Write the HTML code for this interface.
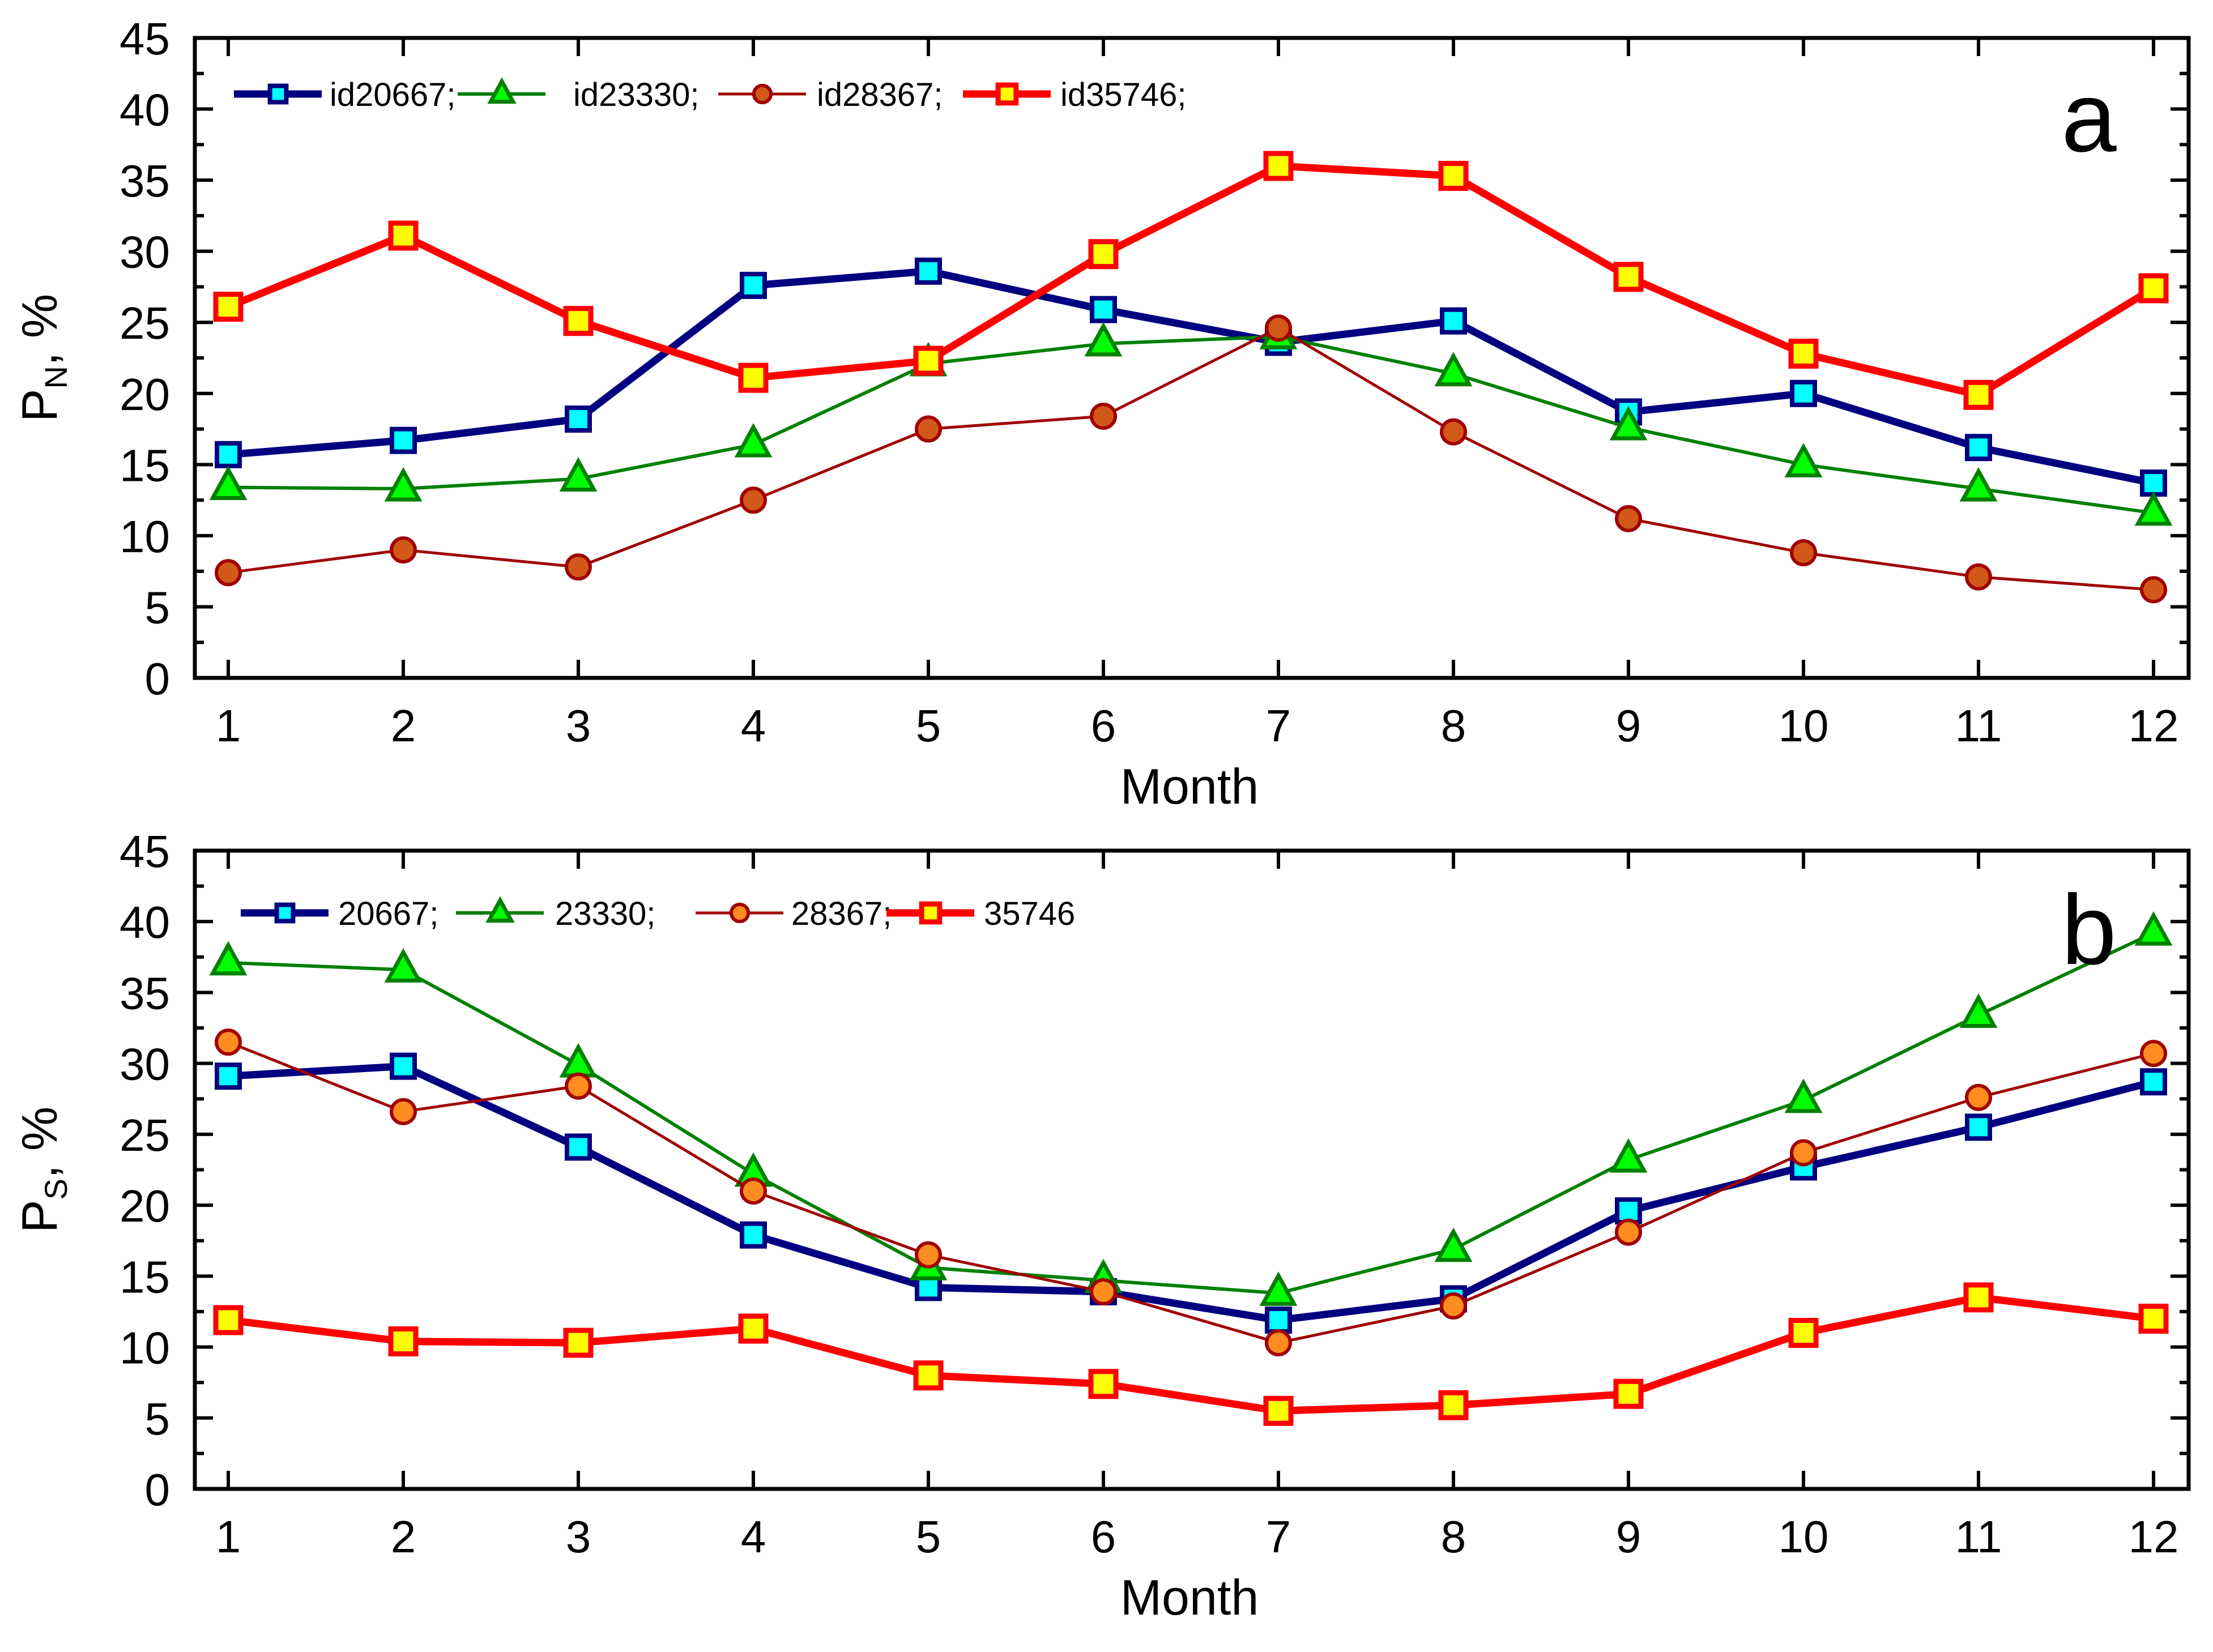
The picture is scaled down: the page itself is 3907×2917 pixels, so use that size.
<!DOCTYPE html>
<html><head><meta charset="utf-8"><style>
html,body{margin:0;padding:0;background:#fff}
svg{display:block}
text{font-family:"Liberation Sans",Arial,sans-serif;fill:#000}
</style></head><body>
<svg id="chart" width="3907" height="2917" viewBox="0 0 3907 2917" xmlns="http://www.w3.org/2000/svg"></svg>
<script>
const months=[1,2,3,4,5,6,7,8,9,10,11,12];
const yTicks=[0,5,10,15,20,25,30,35,40,45];
const a20667=[15.7,16.7,18.2,27.6,28.6,25.9,23.6,25.1,18.7,20.0,16.2,13.7];
const a23330=[13.4,13.3,14.0,16.4,22.1,23.5,24.0,21.4,17.6,15.0,13.3,11.6];
const a28367=[7.4,9.0,7.8,12.5,17.5,18.4,24.6,17.3,11.2,8.8,7.1,6.2];
const a35746=[26.1,31.1,25.1,21.1,22.3,29.8,36.0,35.3,28.2,22.8,19.9,27.4];
const b20667=[29.1,29.8,24.1,17.9,14.2,13.9,11.9,13.4,19.6,22.7,25.5,28.7];
const b23330=[37.1,36.6,29.9,22.2,15.6,14.7,13.8,16.9,23.2,27.4,33.4,39.2];
const b28367=[31.5,26.6,28.4,21.0,16.5,13.9,10.3,12.9,18.1,23.7,27.6,30.7];
const b35746=[11.9,10.4,10.3,11.3,8.0,7.4,5.5,5.9,6.7,11.0,13.5,12.0];
const legA=["id20667;","id23330;","id28367;","id35746;"];
const legB=["20667;","23330;","28367;","35746"];

const NS="http://www.w3.org/2000/svg";
const svg=document.getElementById('chart');
function mk(tag,attrs,parent){const e=document.createElementNS(NS,tag);for(const k in attrs)e.setAttribute(k,attrs[k]);(parent||svg).appendChild(e);return e;}

const L=344,R=3864,X1=403,DX=309;
function xs(m){return X1+(m-1)*DX;}

const styles=[
 {line:'#000080',lw:13,marker:'square',fill:'#00ffff',stroke:'#000080',sw:8,size:40},
 {line:'#008000',lw:6,marker:'tri',fill:'#00ff00',stroke:'#008000',sw:7,size:50},
 {line:'#a00000',lw:5,marker:'circle',fill:'#e06a18',stroke:'#a00000',sw:6,size:42},
 {line:'#ff0000',lw:13,marker:'square',fill:'#ffff00',stroke:'#ff0000',sw:9,size:44}
];

function marker(g,st,x,y,fillOverride){
  const f=fillOverride||st.fill;let m;
  if(st.marker==='square'){const s=st.size;m=mk('rect',{x:x-s/2,y:y-s/2,width:s,height:s,fill:f,stroke:st.stroke,'stroke-width':st.sw},g);}
  else if(st.marker==='tri'){const s=st.size;m=mk('polygon',{points:`${x},${y-s*0.62} ${x-s*0.55},${y+s*0.38} ${x+s*0.55},${y+s*0.38}`,fill:f,stroke:st.stroke,'stroke-width':st.sw},g);}
  else {m=mk('circle',{cx:x,cy:y,r:st.size/2,fill:f,stroke:st.stroke,'stroke-width':st.sw},g);}
  return m;
}

function panel(id,T,B,series,leg,legX,legTX,legY,letter,ytitleSub,circleFill){
  const g=mk('g',{});
  
  
  const ys=v=>B-(v/45)*(B-T);
  const box=mk('rect',{x:L,y:T,width:R-L,height:B-T,fill:'none',stroke:'#000','stroke-width':7},g);
  
  
  for(let v=0;v<=45;v+=2.5){
    const y=ys(v);const major=(v%5===0);const len=major?32:16;
    mk('line',{x1:L,y1:y,x2:L+len,y2:y,stroke:'#000','stroke-width':6},g);
    mk('line',{x1:R,y1:y,x2:R-len,y2:y,stroke:'#000','stroke-width':6},g);
  }
  yTicks.forEach(v=>{
    const t=mk('text',{x:300,y:ys(v)+29,'text-anchor':'end','font-size':80},g);
    t.textContent=v;
    
    
  });
  months.forEach(m=>{
    const x=xs(m);
    mk('line',{x1:x,y1:B,x2:x,y2:B-32,stroke:'#000','stroke-width':6},g);
    mk('line',{x1:x,y1:T,x2:x,y2:T+32,stroke:'#000','stroke-width':6},g);
    const t=mk('text',{x:x,y:B+112,'text-anchor':'middle','font-size':80},g);
    t.textContent=m;
    
    
  });
  const xt=mk('text',{x:2100,y:B+222,'text-anchor':'middle','font-size':88},g);
  xt.textContent='Month';
  
  
  const cy=(T+B)/2;
  const yt=mk('text',{x:0,y:0,'text-anchor':'middle','font-size':88,transform:`translate(100 ${cy}) rotate(-90)`},g);
  
  
  const t1=document.createElementNS(NS,'tspan');t1.textContent='P';yt.appendChild(t1);
  const t2=document.createElementNS(NS,'tspan');t2.setAttribute('font-size','56');t2.setAttribute('dy','18');t2.textContent=ytitleSub;yt.appendChild(t2);
  const t3=document.createElementNS(NS,'tspan');t3.setAttribute('dy','-18');t3.textContent=', %';yt.appendChild(t3);
  series.forEach((vals,i)=>{
    const st=styles[i];
    const sg=mk('g',{},g);
    
    
    const pts=vals.map((v,k)=>xs(months[k])+','+ys(v)).join(' ');
    mk('polyline',{points:pts,fill:'none',stroke:st.line,'stroke-width':st.lw,'stroke-linejoin':'round'},sg);
    vals.forEach((v,k)=>{
      const mm=marker(sg,st,xs(months[k]),ys(v),i===2?circleFill:null);
      
      
    });
  });
  leg.forEach((name,i)=>{
    const st=styles[i];const lx=legX[i];
    const lg=mk('g',{},g);
    
    
    mk('line',{x1:lx,y1:legY,x2:lx+155,y2:legY,stroke:st.line,'stroke-width':st.lw},lg);
    const ms=Object.assign({},st,{size:st.size*0.72});
    marker(lg,ms,lx+78,legY,i===2?circleFill:null);
    const t=mk('text',{x:legTX[i],y:legY+21,'font-size':58},lg);
    t.textContent=name;
  });
  const lt=mk('text',{x:3688,y:T+200,'text-anchor':'middle','font-size':175},g);
  lt.textContent=letter;
  
  
}

panel('a',67,1197,[a20667,a23330,a28367,a35746],legA,[413,808,1268,1700],[582,1012,1442,1872],166,'a','N','#d2581a');
panel('b',1502,2629,[b20667,b23330,b28367,b35746],legB,[425,805,1228,1565],[597,980,1397,1737],1612,'b','S','#ff8c20');
</script>
</body></html>
